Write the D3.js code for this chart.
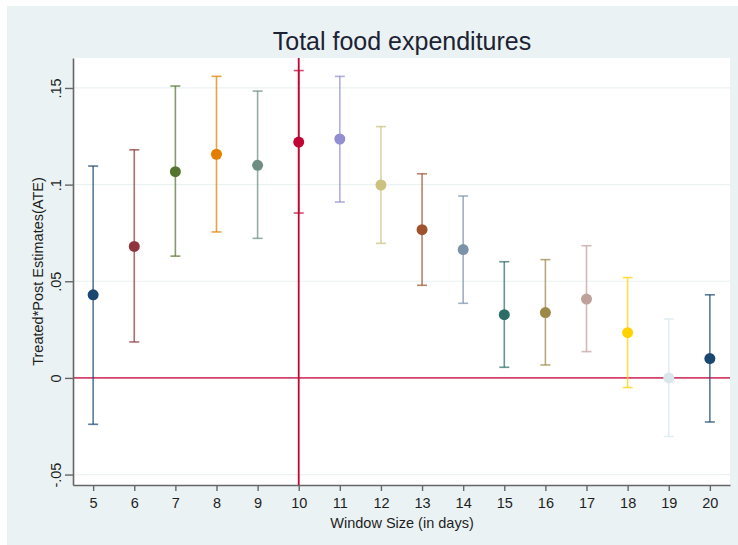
<!DOCTYPE html>
<html>
<head>
<meta charset="utf-8">
<script src="https://cdn.jsdelivr.net/npm/d3@7"></script>
<style>
  body { margin: 0; background: #fff; }
  text { font-family: "Liberation Sans", Arial, sans-serif; }
</style>
</head>
<body>
<script>
var width = 738;
var height = 545;

// window sizes (days), point estimates and CI bounds
var windows = [5, 6, 7, 8, 9, 10, 11, 12, 13, 14, 15, 16, 17, 18, 19, 20];
var estimates = [0.043, 0.068, 0.1067, 0.1157, 0.110, 0.122, 0.1236, 0.0998, 0.0767, 0.0664, 0.0327, 0.0338, 0.0408, 0.0234, 0.000, 0.010];
var upper = [0.1096, 0.118, 0.151, 0.156, 0.1484, 0.159, 0.156, 0.130, 0.1056, 0.0941, 0.0601, 0.0612, 0.0684, 0.0519, 0.0305, 0.043];
var lower = [-0.024, 0.0186, 0.063, 0.0755, 0.0722, 0.0853, 0.091, 0.0696, 0.0479, 0.0386, 0.0055, 0.0067, 0.0136, -0.005, -0.0303, -0.0228];
var colors = ["#1a476f", "#90353b", "#55752f", "#e37e00", "#6e8e84", "#c10534", "#938dd2", "#cac27e",
              "#a0522d", "#7b92a8", "#2d6d66", "#9c8847", "#bfa19c", "#ffd200", "#d9e6eb", "#1a476f"];
var yTicks = [-0.05, 0, 0.05, 0.1, 0.15];
var yTickLabels = ["-.05", "0", ".05", ".1", ".15"];

var plot = {left: 73, right: 730, top: 58, bottom: 485};

var svg = d3.select("body").append("svg")
  .attr("width", width)
  .attr("height", height);

// outer background
svg.append("rect").attr("x", 7).attr("y", 6).attr("width", width - 7).attr("height", height - 6)
  .attr("fill", "#eaf2f3");
svg.append("rect").attr("x", plot.left).attr("y", plot.top)
  .attr("width", plot.right - plot.left).attr("height", plot.bottom - plot.top)
  .attr("fill", "#fff");

var x = d3.scaleLinear().domain([4.51, 20.49]).range([plot.left, plot.right]);
var y = d3.scaleLinear().domain([-0.0554, 0.1655]).range([plot.bottom, plot.top]);

// grid
svg.append("g").selectAll("line").data(yTicks).join("line")
  .attr("x1", plot.left).attr("x2", plot.right)
  .attr("y1", d => y(d)).attr("y2", d => y(d))
  .attr("stroke", "#eaf2f3").attr("stroke-width", 1.2);

// reference lines
svg.append("line")
  .attr("x1", plot.left).attr("x2", plot.right)
  .attr("y1", y(0)).attr("y2", y(0))
  .attr("stroke", "#d5426a").attr("stroke-width", 1.8);

// axes
var xAxis = d3.axisBottom(x).tickValues(windows).tickSize(6).tickPadding(5).tickSizeOuter(0);
var gx = svg.append("g").attr("transform", "translate(0," + plot.bottom + ")").call(xAxis);
gx.select(".domain").attr("stroke", "#666").attr("stroke-width", 1.6);
gx.selectAll(".tick line").attr("stroke", "#666").attr("stroke-width", 1.4);
gx.selectAll(".tick text").attr("font-size", "14.5px").attr("fill", "#1e1e1e").attr("dy", "0.85em");

var yAxis = d3.axisLeft(y).tickValues(yTicks).tickFormat((d, i) => yTickLabels[i]).tickSize(8).tickSizeOuter(0);
var gy = svg.append("g").attr("transform", "translate(" + plot.left + ",0)").call(yAxis);
gy.select(".domain").attr("stroke", "#666").attr("stroke-width", 1.6);
gy.selectAll(".tick line").attr("stroke", "#666").attr("stroke-width", 1.4);
gy.selectAll(".tick text")
  .attr("font-size", "14.5px").attr("fill", "#1e1e1e")
  .attr("x", null).attr("dy", null)
  .attr("text-anchor", "middle")
  .attr("transform", "translate(-3,0) rotate(-90)")
  .attr("y", -9);

// vertical reference line at 10
svg.append("line")
  .attr("x1", x(10)).attr("x2", x(10))
  .attr("y1", plot.top).attr("y2", plot.bottom)
  .attr("stroke", "#c10534").attr("stroke-width", 1.8);

// error bars
var rows = windows.map((w, i) => ({w: w, est: estimates[i], lo: lower[i], hi: upper[i], c: colors[i]}));
var bars = svg.append("g").selectAll("g").data(rows).join("g")
  .attr("stroke", d => d.c).attr("stroke-opacity", 0.72).attr("stroke-width", 1.6);
bars.append("line")
  .attr("x1", d => x(d.w)).attr("x2", d => x(d.w))
  .attr("y1", d => y(d.lo)).attr("y2", d => y(d.hi));
bars.append("line")
  .attr("x1", d => x(d.w) - 5).attr("x2", d => x(d.w) + 5)
  .attr("y1", d => y(d.lo)).attr("y2", d => y(d.lo));
bars.append("line")
  .attr("x1", d => x(d.w) - 5).attr("x2", d => x(d.w) + 5)
  .attr("y1", d => y(d.hi)).attr("y2", d => y(d.hi));

svg.append("g").selectAll("circle").data(rows).join("circle")
  .attr("cx", d => x(d.w)).attr("cy", d => y(d.est))
  .attr("r", 5.5).attr("fill", d => d.c);

// titles
svg.append("text").attr("x", 402).attr("y", 50)
  .attr("text-anchor", "middle").attr("font-size", "25px").attr("fill", "#1c2233")
  .text("Total food expenditures");
svg.append("text").attr("x", 402).attr("y", 528)
  .attr("text-anchor", "middle").attr("font-size", "14.5px").attr("fill", "#1e1e1e")
  .text("Window Size (in days)");
svg.append("text")
  .attr("transform", "translate(43," + ((plot.top + plot.bottom) / 2) + ") rotate(-90)")
  .attr("text-anchor", "middle").attr("font-size", "14.5px").attr("fill", "#1e1e1e")
  .text("Treated*Post Estimates(ATE)");
</script>
</body>
</html>
